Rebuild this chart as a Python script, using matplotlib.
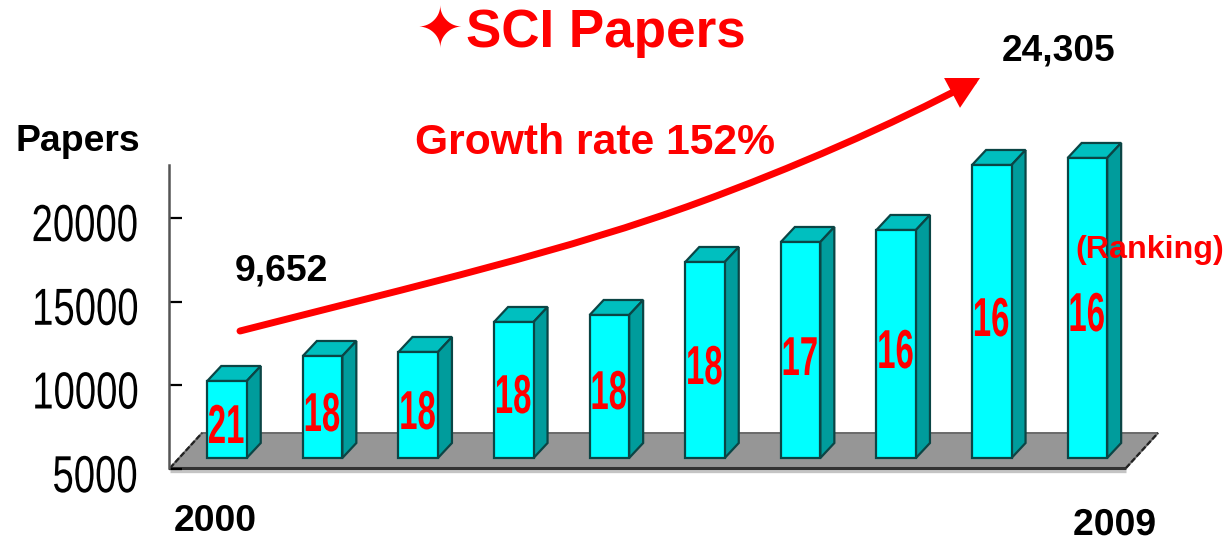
import matplotlib
matplotlib.use("Agg")
import matplotlib.pyplot as plt
from matplotlib.patches import Polygon, FancyArrowPatch
from matplotlib.path import Path
from matplotlib.patheffects import AbstractPathEffect
from matplotlib.transforms import Affine2D, ScaledTranslation

years = [2000, 2001, 2002, 2003, 2004, 2005, 2006, 2007, 2008, 2009]
papers = [10257, 11751, 11990, 13782, 14200, 17366, 18561, 19278, 23161, 23580]
ranks = [21, 18, 18, 18, 18, 18, 17, 16, 16, 16]
y_ticks = [5000, 10000, 15000, 20000]

SANS = "Liberation Sans"


class Squeeze(AbstractPathEffect):
    """Draw a real text narrower. 'center' keeps its middle in place;
    'right_at_center' puts its right end where the layout centre of the text is.
    shift_px moves the drawn glyphs down."""

    def __init__(self, sx, anchor="center", shift_px=0):
        super().__init__()
        self.sx, self.anchor, self.shift_px = sx, anchor, shift_px

    def draw_path(self, renderer, gc, tpath, affine, rgbFace=None):
        ext = tpath.get_extents()
        cx = (ext.x0 + ext.x1) / 2
        start = ext.x1 if self.anchor == "right_at_center" else cx
        squeeze = Affine2D().translate(-start, 0).scale(self.sx, 1).translate(cx, 0)
        shift = Affine2D().translate(0, -self.shift_px)
        renderer.draw_path(gc, tpath, squeeze + affine + shift, rgbFace)


W, H = 1228, 539
fig = plt.figure(figsize=(W / 100, H / 100), dpi=100, facecolor="white")
ax = fig.add_axes([0, 0, 1, 1])

PX_PER_CAT = 95.6
VAL_PER_PX = 5000 / 83.7
X0 = 227
Y5K = 469
ax.set_xlim(-X0 / PX_PER_CAT, (W - X0) / PX_PER_CAT)
ax.set_ylim(5000 - (H - Y5K) * VAL_PER_PX, 5000 + Y5K * VAL_PER_PX)
px = lambda n: n / PX_PER_CAT
pv = lambda n: n * VAL_PER_PX

# floor
base = 5000 + (Y5K - 458) * VAL_PER_PX
fl_front = 5000 + (Y5K - 468) * VAL_PER_PX
fl_back = 5000 + (Y5K - 433) * VAL_PER_PX
x_l, x_r = px(170 - X0), px(1126 - X0)
ax.plot([x_l, x_r], [fl_front - pv(3)] * 2, color="#c4c4c4", lw=2.4, zorder=0.5, solid_capstyle="butt")
ax.add_patch(Polygon([(x_l, fl_front), (x_r, fl_front), (x_r + px(32), fl_back), (x_l + px(32), fl_back)],
                     closed=True, fc="#969696", ec="#6a6a6a", lw=1.4, zorder=1))
ax.plot([x_l, x_r], [fl_front, fl_front], color="#333333", lw=2.2, zorder=1.5, solid_capstyle="butt")
ax.plot([x_r, x_r + px(32)], [fl_front, fl_back], color="#222222", lw=1.6, ls=(0, (2.5, 1)), zorder=1.5)
ax.plot([x_l, x_l + px(32)], [fl_front, fl_back], color="#222222", lw=1.6, ls=(0, (2.5, 1)), zorder=1.5)

# bars
bw = px(39.5)
dx, dy = px(14), pv(15)
EDGE = "#0b4545"
ax.bar(range(len(years)), [v - base for v in papers], bottom=base, width=bw,
       color="#00FFFF", edgecolor=EDGE, linewidth=1.6, zorder=3)
for i, v in enumerate(papers):
    l, r = i - bw / 2, i + bw / 2
    ax.add_patch(Polygon([(l, v), (r, v), (r + dx, v + dy), (l + dx, v + dy)], closed=True,
                         fc="#00BFBF", ec=EDGE, lw=1.6, zorder=2.5))
    ax.add_patch(Polygon([(r, v), (r + dx, v + dy), (r + dx, base + dy), (r, base)], closed=True,
                         fc="#009C9C", ec=EDGE, lw=1.6, zorder=2.5))

# axis
for s in ["top", "right", "bottom"]:
    ax.spines[s].set_visible(False)
ax.spines["left"].set_position(("data", px(169 - X0)))
ax.spines["left"].set_bounds(fl_front, 5000 + (Y5K - 165) * VAL_PER_PX)
ax.spines["left"].set_color("#555555")
ax.spines["left"].set_linewidth(1.8)
ax.set_xticks([])
ax.set_yticks(y_ticks)
ax.tick_params(axis="y", direction="in", length=9, width=1.6, color="black", pad=23.7,
               labelsize=37.5)
for t in ax.get_yticklabels():
    t.set_fontfamily(SANS)
    t.set_ha("center")
    t.set_path_effects([Squeeze(0.735, "right_at_center")])
    t.set_transform(t.get_transform() + ScaledTranslation(0, -3 / 72, fig.dpi_scale_trans))
ax.patch.set_visible(False)

# overlay in image coordinates
ov = fig.add_axes([0, 0, 1, 1], facecolor="none")
ov.set_xlim(0, W)
ov.set_ylim(H, 0)
ov.axis("off")

RED = "#FF0000"
verts = [(240, 331), (420, 285), (570, 250), (700, 202), (790, 169), (890, 126), (980, 78)]
codes = [Path.MOVETO] + [Path.CURVE4] * 6
arrow = FancyArrowPatch(path=Path(verts, codes), arrowstyle="-|>,head_length=15,head_width=8",
                        color=RED, lw=5, shrinkA=0, shrinkB=0, zorder=6, joinstyle="miter",
                        mutation_scale=1.0)
ov.add_patch(arrow)

ov.text(440, 32, "\u2726", color=RED, fontsize=40, family="DejaVu Sans", ha="center", va="center")
ov.text(466, 47, "SCI Papers", color=RED, fontsize=38.2, family=SANS, weight="bold", va="baseline")
ov.text(415, 154, "Growth rate 152%", color=RED, fontsize=30.7, family=SANS, weight="bold", va="baseline")
ov.text(16, 151, "Papers", color="black", fontsize=26.9, family=SANS, weight="bold", va="baseline")
ov.text(1002, 61, "24,305", color="black", fontsize=26.7, family=SANS, weight="bold", va="baseline")
ov.text(235, 281, "9,652", color="black", fontsize=26.9, family=SANS, weight="bold", va="baseline")
ov.text(174, 531, str(years[0]), color="black", fontsize=26.9, family=SANS, weight="bold", va="baseline")
ov.text(1073, 530, str(years[-1]), color="black", fontsize=26.9, family=SANS, weight="bold", va="baseline",
        path_effects=[Squeeze(1.0, "center", shift_px=5)])
ov.text(1075, 258, "(Ranking)", color=RED, fontsize=23.2, family=SANS, weight="bold", va="baseline", zorder=7)

rank_y = [424, 412, 410, 394, 390, 365, 356, 349, 317, 312]
for i, (r, ry) in enumerate(zip(ranks, rank_y)):
    ov.text(X0 + i * PX_PER_CAT - 1, ry + 19, str(r), color=RED, fontsize=39.5, family=SANS,
            weight="bold", ha="center", va="baseline", zorder=7,
            path_effects=[Squeeze(0.6, "center")])

fig.savefig("out.png", dpi=100, facecolor="white")
